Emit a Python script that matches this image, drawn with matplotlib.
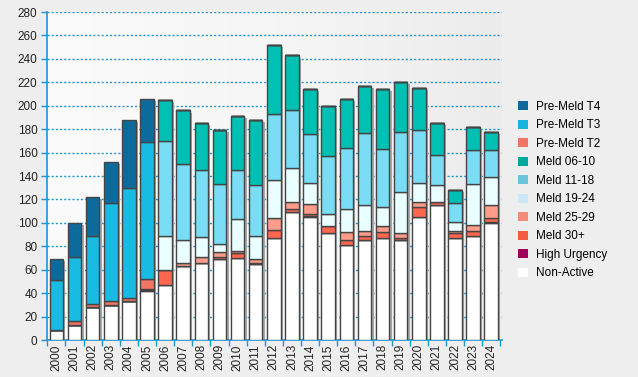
import numpy as np
import matplotlib.pyplot as plt
from matplotlib.patches import Patch

years = [str(y) for y in range(2000, 2025)]

non_active = [9, 13, 28, 30, 33, 42, 47, 63, 66, 69, 70, 65, 87, 109, 105, 91, 81, 85, 87, 85, 105, 115, 87, 89, 100]
high_urg = [0, 0, 0, 0, 0, 2, 0, 0, 0, 0, 0, 0, 0, 0, 1, 0, 0, 0, 0, 0, 0, 0, 0, 0, 1]
meld_30 = [0, 0, 0, 0, 0, 0, 13, 0, 0, 2, 4, 1, 7, 3, 2, 6, 4, 4, 5, 2, 9, 3, 4, 4, 3]
meld_25 = [0, 0, 0, 0, 0, 0, 0, 3, 5, 4, 2, 3, 10, 6, 8, 0, 7, 4, 5, 4, 4, 0, 2, 5, 11]
meld_19 = [0, 0, 0, 0, 0, 0, 29, 19, 17, 7, 27, 20, 33, 29, 18, 11, 20, 22, 17, 35, 16, 14, 8, 35, 24]
meld_11 = [0, 0, 0, 0, 0, 0, 81, 65, 57, 51, 42, 43, 56, 49, 42, 49, 52, 62, 49, 52, 45, 26, 16, 29, 23]
meld_06 = [0, 0, 0, 0, 0, 0, 35, 46, 40, 46, 46, 56, 59, 47, 38, 43, 42, 40, 51, 42, 36, 27, 11, 20, 16]
pre_t2 = [0, 3, 3, 3, 3, 8, 0, 0, 0, 0, 0, 0, 0, 0, 0, 0, 0, 0, 0, 0, 0, 0, 0, 0, 0]
pre_t3 = [42, 55, 58, 84, 94, 117, 0, 0, 0, 0, 0, 0, 0, 0, 0, 0, 0, 0, 0, 0, 0, 0, 0, 0, 0]
pre_t4 = [18, 29, 33, 35, 58, 37, 0, 0, 0, 0, 0, 0, 0, 0, 0, 0, 0, 0, 0, 0, 0, 0, 0, 0, 0]

# bottom -> top: (label, values, bar colour, legend colour)
series = [
    ("Non-Active", non_active, "#FFFFFF", "#FFFFFF"),
    ("High Urgency", high_urg, "#8A0048", "#A0005A"),
    ("Meld 30+", meld_30, "#FF6650", "#F25A44"),
    ("Meld 25-29", meld_25, "#FF9C8A", "#F48C7C"),
    ("Meld 19-24", meld_19, "#EAFFFF", "#CCE8F8"),
    ("Meld 11-18", meld_11, "#7ADDF5", "#6CC4DC"),
    ("Meld 06-10", meld_06, "#00BFB3", "#00A99D"),
    ("Pre-Meld T2", pre_t2, "#F57565", "#F27464"),
    ("Pre-Meld T3", pre_t3, "#18BBE2", "#14B4DC"),
    ("Pre-Meld T4", pre_t4, "#0C6B9B", "#0E6A9C"),
]

plt.rcParams['font.family'] = ['Liberation Sans', 'DejaVu Sans']
blue = "#1E96D4"

fig = plt.figure(figsize=(6.38, 3.77), dpi=100)
fig.patch.set_facecolor("#EEEEEE")
ax = fig.add_axes([0.0741, 0.098, 0.713, 0.870])

# plot area gradient
grad = np.linspace(0, 1, 256).reshape(1, -1)
ax.imshow(grad, extent=[0, 1, 0, 1], transform=ax.transAxes, aspect="auto",
          cmap=plt.matplotlib.colors.LinearSegmentedColormap.from_list(
              "bg", ["#FBFBFB", "#F6F6F6", "#ECECEC"]), zorder=0)

x = np.arange(len(years))
totals = np.sum([s[1] for s in series], axis=0)
ax.bar(x + 0.13, totals - 1.8, width=0.75, color="#A8A8A8", linewidth=0, zorder=2)

bottom = np.zeros(len(years))
for label, vals, col, _ in series:
    v = np.array(vals, dtype=float)
    ax.bar(x, v, width=0.75, bottom=bottom, color=col, edgecolor="#454545",
           linewidth=1.0, zorder=3)
    bottom += v

ax.set_xlim(-0.5, 24.6)
ax.set_ylim(0, 280)
ax.set_yticks(np.arange(0, 281, 20))
ax.yaxis.grid(True, linestyle=(0, (1.5, 1.5)), color=blue, linewidth=1.0, zorder=1)
ax.set_axisbelow(True)

ax.set_xticks(x)
ax.set_xticklabels(years, rotation=90, fontsize=8.5, color="#222222")
ax.set_xticks(np.arange(-0.5, 25, 1), minor=True)
ax.tick_params(axis="x", which="major", length=0, pad=3)
ax.tick_params(axis="x", which="minor", length=4, color=blue, width=1)
ax.tick_params(axis="y", length=4, color=blue, width=1, labelsize=8.5,
               labelcolor="#222222", pad=3)

for s in ["top", "right"]:
    ax.spines[s].set_visible(False)
for s in ["left", "bottom"]:
    ax.spines[s].set_color(blue)
    ax.spines[s].set_linewidth(1.2)

handles = [Patch(facecolor=lc, edgecolor="none", label=lab)
           for lab, _, _, lc in reversed(series)]
fig.legend(handles=handles, loc="upper left", bbox_to_anchor=(0.805, 0.745),
           frameon=False, fontsize=8.5, handlelength=0.8, handleheight=0.8,
           handletextpad=0.7, labelspacing=0.55, borderaxespad=0)

fig.savefig("out.png", dpi=100, facecolor=fig.get_facecolor())
